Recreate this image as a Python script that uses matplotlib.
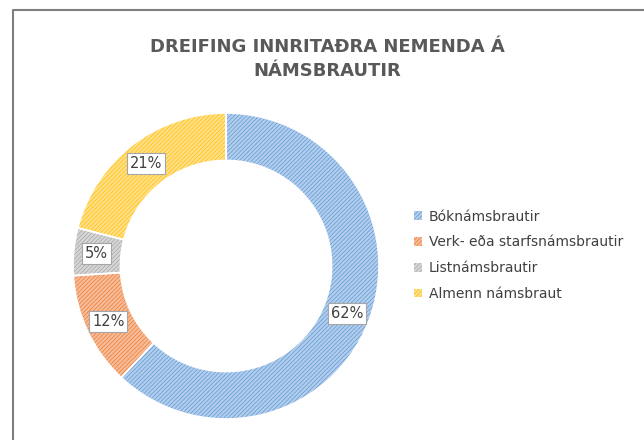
#!/usr/bin/env python3
"""Dreifing innritaðra nemenda á námsbrautir - kleinuhringur"""
import matplotlib
matplotlib.use('Agg')
import matplotlib.pyplot as plt
import numpy as np

categories = ["Bóknámsbrautir", "Verk- eða starfsnámsbrautir", "Listnámsbrautir", "Almenn námsbraut"]
shares = [62, 12, 5, 21]
labels = ["62%", "12%", "5%", "21%"]
base_colors = ["#5b9bd5", "#ed7d31", "#a5a5a5", "#ffc000"]
light_colors = ["#b4cdec", "#f6bb98", "#d6d6d6", "#ffdf8a"]

plt.rcParams['font.family'] = ['DejaVu Sans']
plt.rcParams['hatch.linewidth'] = 0.5

fig = plt.figure(figsize=(6.44, 4.4), dpi=100)

# ramminn utan um grafið
frame = fig.add_axes([0, 0, 1, 1])
frame.axis("off")
frame.plot([13/644, 13/644, 1.0], [0.0, 1 - 10/440, 1 - 10/440],
           color="#7f7f7f", linewidth=1.5, transform=frame.transAxes)
frame.set_xlim(0, 1)
frame.set_ylim(0, 1)

ax = fig.add_axes([73/644, 21/440, 306/644, 306/440])
wedges, _ = ax.pie(shares, startangle=90, counterclock=False, radius=1.0,
                   colors=light_colors, wedgeprops=dict(width=0.31, linewidth=0))
for w, c in zip(wedges, base_colors):
    w.set_edgecolor(c)
    w.set_hatch("////////")
# hvítar línur milli sneiða
ax.pie(shares, startangle=90, counterclock=False, radius=1.0,
       colors=["none"] * 4, wedgeprops=dict(width=0.31, linewidth=1.2, edgecolor="white"))

for w, lab in zip(wedges, labels):
    ang = np.deg2rad((w.theta1 + w.theta2) / 2)
    x, y = 0.85 * np.cos(ang), 0.85 * np.sin(ang)
    ax.text(x, y, lab, ha="center", va="center", fontsize=10.5, color="#404040",
            bbox=dict(boxstyle="square,pad=0.2", facecolor="white", edgecolor="#a6a6a6", linewidth=0.8))
ax.set_xlim(-1, 1)
ax.set_ylim(-1, 1)
ax.set_aspect("equal")

fig.text(327/644, 1 - 59/440, "DREIFING INNRITAÐRA NEMENDA Á\nNÁMSBRAUTIR",
         ha="center", va="center", fontsize=13, fontweight="bold", color="#595959",
         linespacing=1.4)

handles = [plt.Rectangle((0, 0), 1, 1, facecolor=lc, edgecolor=bc, hatch="////////", linewidth=0)
           for lc, bc in zip(light_colors, base_colors)]
fig.legend(handles, categories, loc="upper left", bbox_to_anchor=(401/644, 1 - 197/440),
           frameon=False, fontsize=10, handlelength=0.6, handleheight=0.6,
           handletextpad=0.5, labelspacing=0.85, labelcolor="#404040")

plt.savefig("out.png", dpi=100)
plt.close()
